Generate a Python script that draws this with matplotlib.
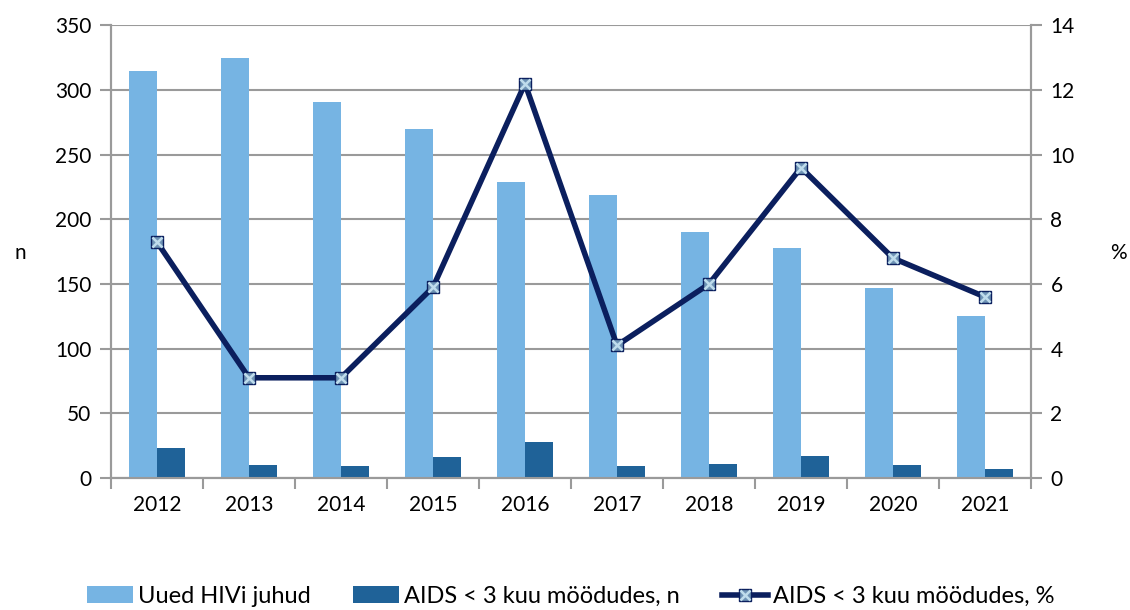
import numpy as np
import matplotlib
matplotlib.use("Agg")
import matplotlib.pyplot as plt
from matplotlib.patches import Patch
from matplotlib.lines import Line2D

plt.rcParams['font.family'] = ['Lato', 'DejaVu Sans']

years = ['2012', '2013', '2014', '2015', '2016', '2017', '2018', '2019', '2020', '2021']
new_hiv = [315, 325, 291, 270, 229, 219, 190, 178, 147, 125]
aids_n = [23, 10, 9, 16, 28, 9, 11, 17, 10, 7]
aids_pct = [7.3, 3.1, 3.1, 5.9, 12.2, 4.1, 6.0, 9.6, 6.8, 5.6]

light = '#76B4E3'
dark = '#1F6298'
navy = '#0B1F5E'
grid = '#9A9A9A'
mfill = '#6E93B5'
mx = '#BFDCEC'

fig = plt.figure(figsize=(11.3, 6.1), dpi=100)
ax = fig.add_axes([0.0982, 0.2164, 0.8142, 0.742])
ax2 = ax.twinx()

x = np.arange(len(years))
w = 0.3
ax.bar(x - w / 2, new_hiv, w, color=light, zorder=3)
ax.bar(x + w / 2, aids_n, w, color=dark, zorder=3)

ax.set_xlim(-0.5, len(years) - 0.5)
ax.set_ylim(0, 350)
ax.set_yticks(np.arange(0, 351, 50))
ax.set_xticks(np.arange(-0.5, len(years), 1), minor=False)
ax.set_xticklabels([])
ax.set_xticks(x, minor=True)
ax.set_xticklabels(years, minor=True)
ax.tick_params(axis='x', which='minor', length=0, pad=12, labelsize=15)
ax.tick_params(axis='x', which='major', length=8, width=1.5, color=grid, direction='out')
ax.tick_params(axis='y', length=8, width=1.5, color=grid, labelsize=15, pad=6)
ax.yaxis.grid(True, color=grid, linewidth=1.5, zorder=0)
ax.set_axisbelow(True)

ax2.set_ylim(0, 14)
ax2.set_yticks(np.arange(0, 15, 2))
ax2.tick_params(axis='y', length=8, width=1.5, color=grid, labelsize=15, pad=6)
ax2.plot(x, aids_pct, color=navy, linewidth=4, zorder=5)
ax2.plot(x, aids_pct, linestyle='none', marker='s', markersize=9,
         markerfacecolor=mfill, markeredgecolor=navy, markeredgewidth=1, zorder=6)
ax2.plot(x, aids_pct, linestyle='none', marker='x', markersize=7,
         markeredgecolor=mx, markeredgewidth=1.8, zorder=7)

for a in (ax, ax2):
    a.spines['top'].set_visible(False)
    for s in ('left', 'right', 'bottom'):
        a.spines[s].set_color(grid)
        a.spines[s].set_linewidth(1.5)

fig.text(0.013, 0.585, 'n', fontsize=15, va='center')
fig.text(0.982, 0.585, '%', fontsize=15, va='center')

line_h = Line2D([0], [0], color=navy, linewidth=4, marker='s', markersize=9,
                markerfacecolor=mfill, markeredgecolor=navy)
x_h = Line2D([0], [0], linestyle='none', marker='x', markersize=7,
             markeredgecolor=mx, markeredgewidth=1.8)
handles = [
    Patch(facecolor=light, edgecolor='none'),
    Patch(facecolor=dark, edgecolor='none'),
    (line_h, x_h),
]
labels = ['Uued HIVi juhud', 'AIDS < 3 kuu möödudes, n', 'AIDS < 3 kuu möödudes, %']
fig.legend(handles, labels, loc='lower center', bbox_to_anchor=(0.505, -0.03), ncol=3,
           frameon=False, fontsize=17, handlelength=1.95, handleheight=0.75,
           handletextpad=0.2, columnspacing=1.8)

fig.savefig('out.png', dpi=100)
